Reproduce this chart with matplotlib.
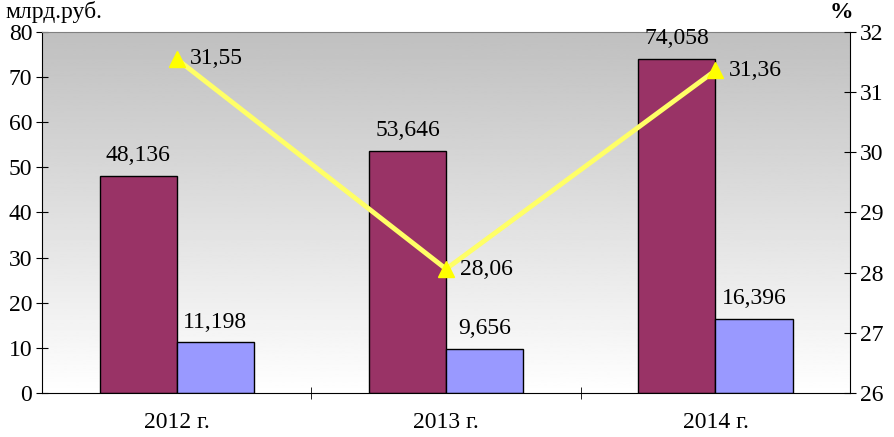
import numpy as np
import matplotlib.pyplot as plt

years = ["2012 г.", "2013 г.", "2014 г."]
total = [48.136, 53.646, 74.058]
part = [11.198, 9.656, 16.396]
share = [31.55, 28.06, 31.36]
total_lbl = ["48,136", "53,646", "74,058"]
part_lbl = ["11,198", "9,656", "16,396"]
share_lbl = ["31,55", "28,06", "31,36"]

plt.rcParams["font.family"] = ["Liberation Serif", "DejaVu Serif"]
plt.rcParams["font.size"] = 17

fig = plt.figure(figsize=(8.94, 4.37), dpi=100)
ax = fig.add_axes([0.047, 0.1007, 0.904, 0.8263])

# gray-to-white gradient background
grad = np.linspace(0.75, 1.0, 256).reshape(-1, 1)
ax.imshow(grad, cmap="gray", vmin=0, vmax=1, aspect="auto",
          extent=[0, 1, 0, 1], transform=ax.transAxes, zorder=0)

x = np.arange(len(years))
w = 0.286
ax.bar(x - w / 2, total, w, color="#993366", edgecolor="black", linewidth=1, zorder=2)
ax.bar(x + w / 2, part, w, color="#9999FF", edgecolor="black", linewidth=1, zorder=2)
for i in x:
    ax.text(i - w / 2, total[i] + 2.2, total_lbl[i], ha="center", va="bottom")
    ax.text(i + w / 2, part[i] + 2.2, part_lbl[i], ha="center", va="bottom")

ax.set_xlim(-0.5, 2.5)
ax.set_ylim(0, 80)
ax.set_yticks(range(0, 81, 10))
ax.set_xticks(x)
ax.set_xticklabels(years)
ax.set_xticks([0.5, 1.5], minor=True)
ax.tick_params(axis="x", which="major", length=0, pad=14)
ax.tick_params(axis="x", which="minor", length=8, direction="inout")
ax.tick_params(axis="y", direction="inout", length=8, pad=3)
ax.spines["right"].set_visible(False)
ax.spines["top"].set_color("#808080")

ax2 = ax.twinx()
ax2.plot(x, share, color="#FFFF66", linewidth=3.5, marker="^", markersize=11,
         markerfacecolor="#FFFF00", markeredgecolor="#FFFF00", zorder=3)
for i in x:
    ax2.text(i + 0.05, share[i], share_lbl[i], ha="left", va="center")
ax2.set_ylim(26, 32)
ax2.set_yticks(range(26, 33))
ax2.tick_params(axis="y", direction="inout", length=8, pad=3)
for s in ["top", "left", "bottom"]:
    ax2.spines[s].set_visible(False)

fig.text(0.006, 0.972, "млрд.руб.", ha="left", va="center")
fig.text(0.941, 0.972, "%", ha="center", va="center", fontweight="bold")

fig.savefig("out.png")
